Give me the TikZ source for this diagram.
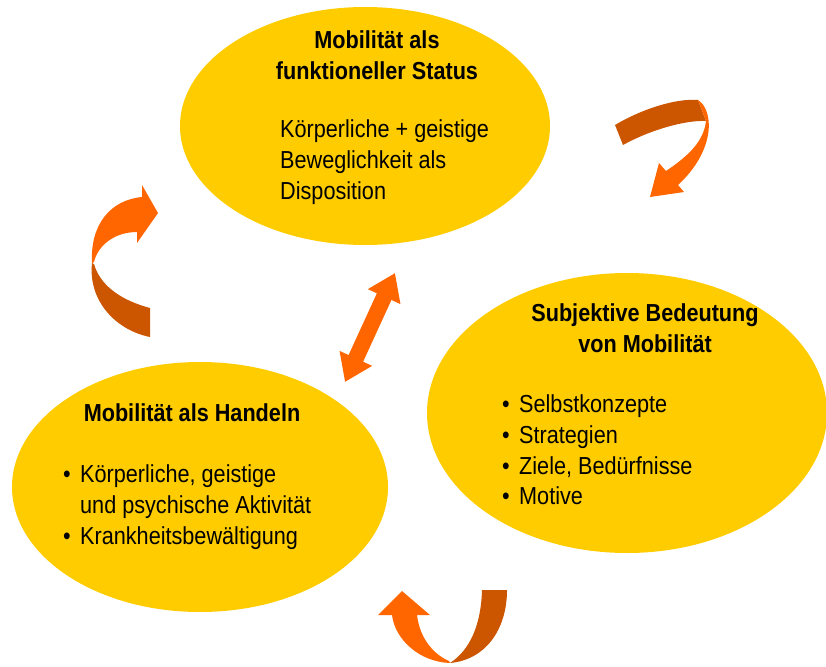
\documentclass[tikz,border=0pt]{standalone}
\usepackage{fontspec}
\setmainfont{Liberation Sans}[FakeStretch=0.88]
\usetikzlibrary{positioning,arrows.meta,shapes.geometric}
\definecolor{sun}{HTML}{FFCC00}
\definecolor{flame}{HTML}{FF6600}
\definecolor{rust}{HTML}{CC5500}
\newcommand{\punkt}{\makebox[17pt][l]{•}}

\begin{document}
\begin{tikzpicture}[
  x=1pt, y=-1pt,
  blob/.style={ellipse, fill=sun, inner sep=0pt},
  head/.style={font=\fontsize{24.6}{30.5}\selectfont\bfseries, align=center, inner sep=0pt},
  body/.style={font=\fontsize{24.6}{30.8}\selectfont, align=left, anchor=west, inner sep=0pt},
  back/.style={fill=rust},
  front/.style={fill=flame}
]
\clip (0,0) rectangle (826,666);

% Ellipses
\node[blob, minimum width=370pt, minimum height=238pt] (status) at (365,126) {};
\node[blob, minimum width=400pt, minimum height=280pt] (sinn) at (627,413) {};
\node[blob, minimum width=376pt, minimum height=250pt] (handeln) at (200,487) {};

% Texts
\node[head] (status-t) at (377,55) {Mobilität als\\funktioneller Status};
\node[body] (status-b) at (280,162) {Körperliche + geistige\\Beweglichkeit als\\Disposition};

\node[head] (sinn-t) at (645,328) {Subjektive Bedeutung\\von Mobilität};
\node[body] (sinn-b) at (502,450) {\punkt Selbstkonzepte\\\punkt Strategien\\\punkt Ziele, Bedürfnisse\\\punkt Motive};

\node[head] (handeln-t) at (192,413) {Mobilität als Handeln};
\node[body] (handeln-b) at (63,507) {\punkt Körperliche, geistige\\\hspace*{17pt}und psychische Aktivität\\\punkt Krankheitsbewältigung};

% Double arrow
\coordinate (oben) at (395,273);
\coordinate (unten) at (345,382);
\draw[flame, line width=16pt, {Triangle[width=34pt,length=26pt]}-{Triangle[width=34pt,length=26pt]}] (unten) -- (oben);

% Turning arrow, top right
\fill[back] (615,125) .. controls (640,110) and (675,98) .. (698,100)
  -- (706,121) .. controls (685,120) and (650,130) .. (623,145) -- cycle;
\fill[front] (698,100) .. controls (714,110) and (716,150) .. (678,185)
  -- (684,192) -- (650,197) -- (659,163) -- (666,171)
  .. controls (690,155) and (704,140) .. (706,121) -- cycle;

% Turning arrow, left
\fill[back] (92,263) .. controls (88,300) and (115,330) .. (150,337)
  -- (150,308) .. controls (120,300) and (100,285) .. (94,264) -- cycle;
\fill[front] (92,263) .. controls (90,225) and (110,200) .. (142,197)
  -- (142,185) -- (158,213) -- (137,243) -- (137,232)
  .. controls (115,232) and (98,245) .. (94,262) -- cycle;

% Turning arrow, bottom
\fill[back] (482,590) -- (507,590) .. controls (507,630) and (485,660) .. (450,663)
  .. controls (470,650) and (481,625) .. (482,590) -- cycle;
\fill[front] (450,663) .. controls (420,662) and (395,640) .. (392,615)
  -- (378,615) -- (402,591) -- (430,615) -- (417,615)
  .. controls (420,640) and (435,655) .. (449,661) -- cycle;

\end{tikzpicture}
\end{document}
